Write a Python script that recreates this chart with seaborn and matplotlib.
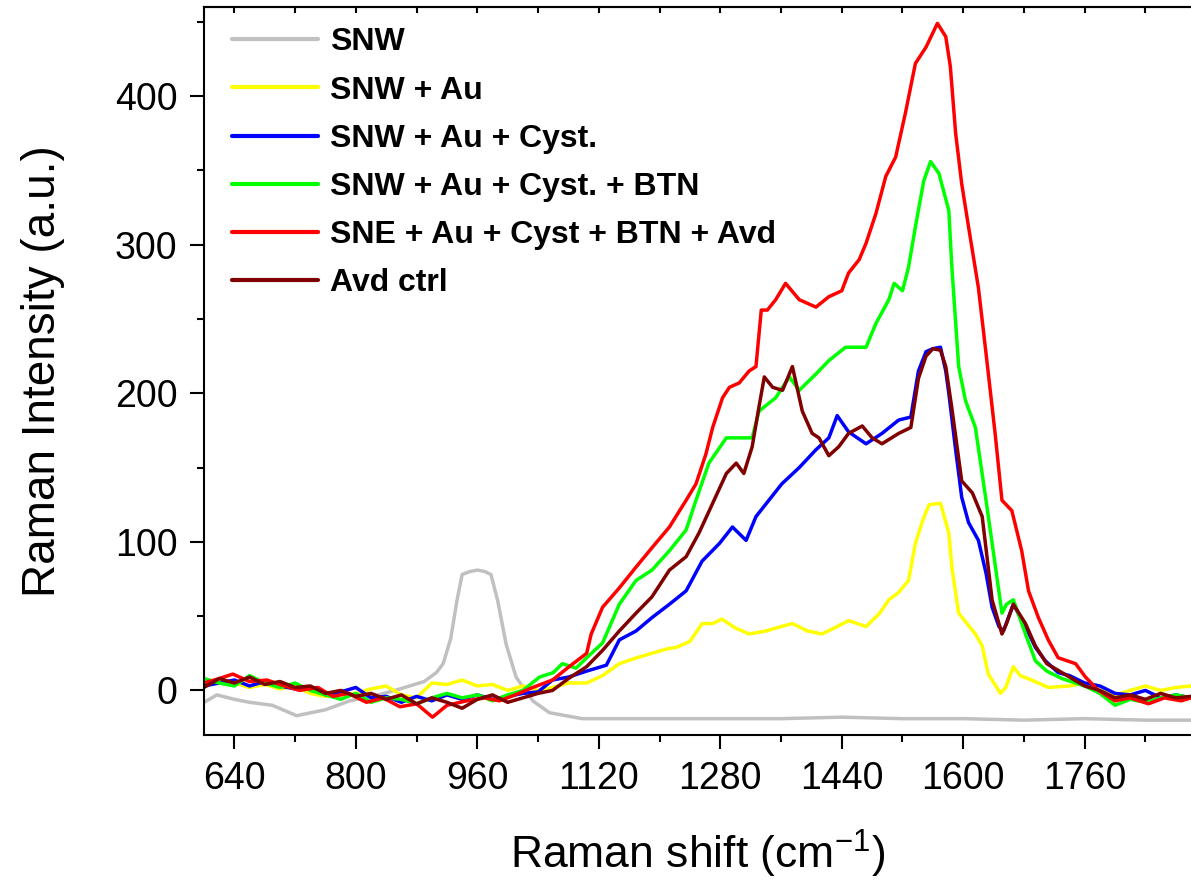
import matplotlib
matplotlib.use("Agg")
import matplotlib.pyplot as plt
import seaborn as sns
import pandas as pd
from matplotlib.ticker import MultipleLocator

# ---------------- data ----------------
snw_x = [600, 617, 640, 660, 690, 722, 760, 792, 830, 858, 890, 906, 915, 925, 933,
         940, 950, 960, 970, 978, 987, 998, 1011, 1033, 1055, 1098, 1200, 1280, 1360,
         1440, 1520, 1600, 1680, 1760, 1840, 1900]
snw_y = [-8, -3, -6, -8, -10, -17, -13, -7, -3, 1, 6, 12, 18, 35, 60,
         78, 80, 81, 80, 78, 60, 31, 9, -7, -15, -19, -19, -19, -19,
         -18, -19, -19, -20, -19, -20, -20]

au_x = [600, 620, 640, 660, 680, 700, 720, 740, 760, 780, 800, 820, 840, 860, 880,
        900, 920, 940, 960, 980, 1000, 1020, 1040, 1060, 1080, 1104, 1125, 1147, 1170,
        1190, 1210, 1222, 1240, 1256, 1270, 1282, 1300, 1318, 1340, 1360, 1375, 1395,
        1414, 1430, 1449, 1472, 1490, 1502, 1515, 1528, 1537, 1547, 1555, 1570, 1581,
        1585, 1594, 1605, 1616, 1625, 1633, 1649, 1656, 1666, 1675, 1690, 1712, 1740,
        1760, 1780, 1800, 1820, 1840, 1860, 1880, 1900]
au_y = [3, 7, 5, 2, 4, 1, 3, -2, -4, -3, -2, 1, 3, -3, -5,
        5, 4, 7, 3, 4, 0, 3, 0, 2, 5, 5, 10, 18, 22,
        25, 28, 29, 33, 45, 45, 48, 42, 38, 40, 43, 45, 40,
        38, 42, 47, 43, 52, 61, 66, 74, 99, 115, 125, 126, 106,
        83, 52, 45, 38, 30, 11, -2, 2, 16, 10, 7, 2, 3,
        5, 0, -3, 0, 3, 0, 2, 3]

cyst_x = [600, 620, 640, 660, 680, 700, 720, 740, 760, 780, 800, 820, 840, 860, 880,
          900, 920, 940, 960, 980, 1000, 1020, 1040, 1059, 1080, 1104, 1130, 1147, 1169,
          1190, 1213, 1235, 1256, 1279, 1296, 1314, 1327, 1344, 1361, 1384, 1406, 1423,
          1434, 1449, 1472, 1493, 1515, 1531, 1541, 1551, 1560, 1570, 1577, 1581, 1590,
          1598, 1607, 1620, 1630, 1638, 1647, 1653, 1666, 1682, 1695, 1708, 1725, 1740,
          1760, 1780, 1800, 1820, 1840, 1860, 1880, 1900]
cyst_y = [3, 5, 7, 3, 6, 3, 1, 2, -3, -1, 2, -5, -4, -8, -4,
          -7, -3, -6, -3, -6, -4, -2, -1, 7, 9, 13, 17, 34, 40,
          49, 58, 67, 87, 99, 110, 101, 117, 128, 139, 150, 162, 170,
          185, 174, 166, 173, 182, 184, 215, 228, 230, 231, 215, 200, 162,
          130, 113, 101, 79, 56, 43, 40, 58, 43, 29, 20, 12, 10,
          5, 3, -2, -3, 0, -5, -3, -5]

btn_x = [600, 620, 640, 660, 680, 700, 720, 740, 760, 780, 800, 820, 840, 860, 880,
         900, 920, 940, 960, 980, 1000, 1020, 1042, 1060, 1072, 1090, 1104, 1125, 1147,
         1169, 1190, 1213, 1235, 1248, 1265, 1288, 1305, 1322, 1331, 1353, 1371, 1384,
         1406, 1423, 1445, 1472, 1485, 1502, 1509, 1520, 1528, 1537, 1548, 1557, 1568,
         1581, 1585, 1594, 1603, 1616, 1630, 1640, 1651, 1657, 1666, 1682, 1695, 1710,
         1730, 1760, 1780, 1800, 1820, 1840, 1860, 1880, 1900]
btn_y = [8, 5, 3, 10, 5, 2, 5, 0, -3, -6, -2, -8, -5, -6, -9,
         -5, -2, -5, -3, -7, -3, 0, 9, 12, 18, 15, 22, 32, 58,
         74, 81, 94, 108, 128, 153, 170, 170, 170, 188, 197, 211, 202,
         213, 222, 231, 231, 247, 263, 274, 269, 285, 312, 343, 356, 348,
         323, 285, 218, 195, 177, 128, 92, 52, 58, 61, 38, 20, 13,
         8, 3, -2, -10, -6, -8, -5, -3, -5]

avd_x = [600, 620, 638, 660, 683, 700, 726, 750, 770, 790, 814, 836, 858, 880, 901,
         920, 946, 970, 989, 1010, 1033, 1059, 1081, 1104, 1110, 1125, 1147, 1169, 1190,
         1213, 1235, 1248, 1261, 1270, 1283, 1292, 1305, 1318, 1327, 1334, 1342, 1353,
         1366, 1384, 1406, 1423, 1440, 1449, 1463, 1472, 1485, 1498, 1511, 1524, 1537,
         1551, 1566, 1577, 1583, 1590, 1598, 1607, 1620, 1630, 1642, 1651, 1664, 1677,
         1686, 1699, 1712, 1725, 1748, 1761, 1778, 1800, 1820, 1844, 1865, 1887, 1900]
avd_y = [5, 8, 11, 6, 7, 4, 0, 2, -4, -2, -8, -5, -11, -9, -18,
         -10, -7, -5, -7, -3, 2, 7, 16, 25, 38, 56, 69, 83, 96,
         110, 128, 139, 159, 177, 197, 204, 207, 215, 218, 256, 256, 263,
         274, 263, 258, 265, 269, 281, 290, 301, 321, 346, 359, 389, 422,
         433, 449, 440, 420, 375, 341, 312, 271, 227, 173, 128, 121, 94,
         67, 49, 34, 22, 18, 9, 0, -7, -5, -9, -5, -7, -5]

ctrl_x = [600, 620, 640, 660, 680, 700, 720, 740, 760, 780, 800, 820, 840, 860, 880,
          900, 920, 940, 960, 980, 1000, 1020, 1040, 1059, 1080, 1104, 1125, 1147, 1169,
          1190, 1213, 1235, 1252, 1270, 1288, 1301, 1311, 1322, 1331, 1338, 1349, 1362,
          1375, 1388, 1401, 1410, 1423, 1436, 1449, 1467, 1480, 1493, 1515, 1531, 1541,
          1551, 1560, 1570, 1577, 1585, 1598, 1612, 1625, 1638, 1651, 1657, 1666, 1682,
          1695, 1710, 1730, 1760, 1780, 1800, 1820, 1840, 1860, 1880, 1900]
ctrl_y = [2, 8, 5, 9, 4, 6, 2, 3, -2, 0, -4, -2, -6, -3, -9,
          -5, -8, -12, -6, -3, -8, -5, -2, 0, 8, 16, 27, 40, 52,
          63, 81, 90, 106, 126, 146, 153, 146, 164, 191, 211, 204, 202,
          218, 188, 173, 170, 158, 164, 173, 178, 170, 166, 173, 177, 210,
          225, 230, 229, 218, 190, 141, 133, 117, 61, 38, 45, 58, 45,
          30, 18, 12, 3, 0, -5, -3, -6, -2, -5, -4]

labels = ["SNW", "SNW + Au", "SNW + Au + Cyst.", "SNW + Au + Cyst. + BTN",
          "SNE + Au + Cyst + BTN + Avd", "Avd ctrl"]
colors = ["#c0c0c0", "#ffff00", "#0000ff", "#00ff00", "#ff0000", "#800000"]
xs = [snw_x, au_x, cyst_x, btn_x, avd_x, ctrl_x]
ys = [snw_y, au_y, cyst_y, btn_y, avd_y, ctrl_y]

x_ticks = [640, 800, 960, 1120, 1280, 1440, 1600, 1760]
y_ticks = [0, 100, 200, 300, 400]

# ---------------- plotting ----------------
sns.set_style("ticks")
plt.rcParams["font.family"] = ["Liberation Sans", "DejaVu Sans"]
plt.rcParams["mathtext.fontset"] = "custom"
plt.rcParams["mathtext.rm"] = "Liberation Sans"
plt.rcParams["mathtext.it"] = "Liberation Sans"
plt.rcParams["text.color"] = "black"
plt.rcParams["axes.labelcolor"] = "black"

fig = plt.figure(figsize=(11.91, 8.81), dpi=100)
ax = fig.add_axes([204 / 1191, 1 - 735 / 881, 1 - 204 / 1191, (735 - 7) / 881])

for x, y, lab, c in zip(xs, ys, labels, colors):
    df = pd.DataFrame({"x": x, "y": y})
    sns.lineplot(data=df, x="x", y="y", ax=ax, color=c, lw=2.5, label=lab,
                 estimator=None, sort=False)

ax.set_xlim(600, 1900)
ax.set_ylim(-30, 460)
ax.set_xticks(x_ticks)
ax.set_yticks(y_ticks)
ax.xaxis.set_minor_locator(MultipleLocator(80))
ax.yaxis.set_minor_locator(MultipleLocator(50))

for s in ["left", "bottom", "top"]:
    ax.spines[s].set_linewidth(1.5)
    ax.spines[s].set_color("black")
ax.spines["right"].set_visible(False)

ax.tick_params(axis="both", which="major", direction="out", length=10, width=1.5,
               labelsize=27, colors="black")
ax.tick_params(axis="x", which="major", pad=9)
ax.tick_params(axis="y", which="major", pad=9)
ax.tick_params(axis="both", which="minor", direction="out", length=5, width=1.5,
               colors="black")
ax.tick_params(top=False, right=False, which="both")

top = ax.secondary_xaxis("top")
top.set_xticks(list(range(640, 1900, 80)))
top.tick_params(direction="in", length=4, width=1.5, labeltop=False, colors="black")
top.set_xticklabels([])
top.spines["top"].set_linewidth(1.5)

ax.set_xlabel("Raman shift (cm$^{-1}$)", fontsize=32, labelpad=22, color="black")
ax.set_ylabel("Raman Intensity (a.u.)", fontsize=33, labelpad=36, color="black")

leg = ax.legend(loc="upper left", bbox_to_anchor=(0.0284, 0.972), frameon=False,
                borderaxespad=0, borderpad=0, handlelength=2.7, handletextpad=0.38,
                labelspacing=0.57, prop={"weight": "bold", "size": 23})
for t in leg.get_texts():
    t.set_color("black")
for h in leg.get_lines():
    h.set_linewidth(3)

fig.savefig("out.png", dpi=100)
